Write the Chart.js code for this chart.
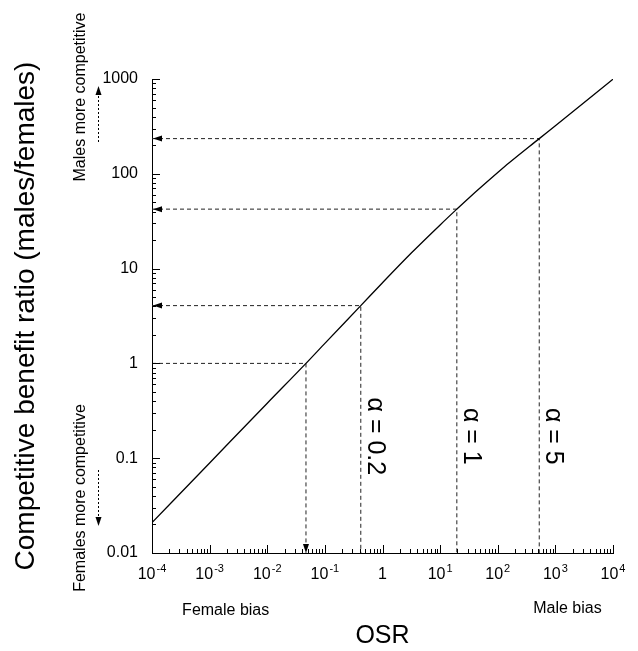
<!DOCTYPE html>
<html>
<head>
<meta charset="utf-8">
<script src="https://cdn.jsdelivr.net/npm/chart.js@4"></script>
<style>
  body { margin: 0; background: #fff; }
  canvas { display: block; }
</style>
</head>
<body>
<canvas id="chart" width="638" height="651"></canvas>
<script>
// curve (OSR -> competitive benefit ratio)
const osrValues = [1e-4, 1e-3, 1e-2, 0.047, 0.1, 0.42, 1, 3.16, 10, 19.5, 31.6, 100, 158, 525, 1000, 1e4];
const ratioValues = [0.0209, 0.0891, 0.380, 1, 1.626, 4.07, 7.10, 14.6, 28.9, 42.4, 55.6, 103, 130.6, 235, 322, 995];

// dashed guides: where each alpha meets the curve
const guideOsr = [0.047, 0.42, 19.5, 525];
const guideRatio = [1, 4.07, 42.4, 235];
const guideArrowLeft = [false, true, true, true];
const guideArrowDown = [true, false, false, false];
const alphaLabels = ['', 'α = 0.2', 'α = 1', 'α = 5'];

const xDecades = [-4, -3, -2, -1, 0, 1, 2, 3, 4];
const xTickBase = ['10', '10', '10', '10', '1', '10', '10', '10', '10'];
const xTickExp = ['-4', '-3', '-2', '-1', '', '1', '2', '3', '4'];
const yDecades = [-2, -1, 0, 1, 2, 3];
const yTickLabels = ['0.01', '0.1', '1', '10', '100', '1000'];

const FONT = "'Liberation Sans', Arial, Helvetica, sans-serif";

function logTicks(decades) {
    const out = [];
    decades.forEach((d, i) => {
        const base = Math.pow(10, d);
        out.push({ value: base });
        if (i < decades.length - 1) {
            for (let k = 2; k <= 9; k++) out.push({ value: k * base });
        }
    });
    return out;
}

function decadeIndex(value, decades) {
    const l = Math.log10(value);
    const e = Math.round(l);
    if (Math.abs(l - e) > 1e-6) return -1;
    return decades.indexOf(e);
}

function arrowHead(ctx, x, y, dir) {
    const len = 9, half = 3;
    ctx.beginPath();
    ctx.moveTo(x, y);
    if (dir === 'left') { ctx.lineTo(x + len, y - half); ctx.lineTo(x + len, y + half); }
    if (dir === 'down') { ctx.lineTo(x - half, y - len); ctx.lineTo(x + half, y - len); }
    if (dir === 'up') { ctx.lineTo(x - half, y + len); ctx.lineTo(x + half, y + len); }
    ctx.closePath();
    ctx.fill();
}

const annotate = {
    id: 'annotate',
    afterDraw(chart) {
        const { ctx, chartArea: a, scales: { x, y } } = chart;
        ctx.save();
        ctx.strokeStyle = '#000';
        ctx.fillStyle = '#000';
        ctx.lineWidth = 1;

        // tick marks point inward
        ctx.beginPath();
        x.ticks.forEach(t => {
            const px = Math.round(x.getPixelForValue(t.value)) + 0.5;
            const len = decadeIndex(t.value, xDecades) >= 0 ? 8 : 4;
            ctx.moveTo(px, a.bottom);
            ctx.lineTo(px, a.bottom - len);
        });
        y.ticks.forEach(t => {
            const py = Math.round(y.getPixelForValue(t.value)) + 0.5;
            const len = decadeIndex(t.value, yDecades) >= 0 ? 8 : 4;
            ctx.moveTo(a.left, py);
            ctx.lineTo(a.left + len, py);
        });
        ctx.stroke();

        // x tick labels with superscript exponents
        ctx.textBaseline = 'alphabetic';
        ctx.textAlign = 'left';
        xDecades.forEach((d, i) => {
            const px = x.getPixelForValue(Math.pow(10, d));
            ctx.font = '16px ' + FONT;
            const wb = ctx.measureText(xTickBase[i]).width;
            ctx.font = '11px ' + FONT;
            const we = xTickExp[i] ? ctx.measureText(xTickExp[i]).width + 1 : 0;
            const x0 = px - (wb + we) / 2;
            ctx.font = '16px ' + FONT;
            ctx.fillText(xTickBase[i], x0, a.bottom + 26);
            if (xTickExp[i]) {
                ctx.font = '11px ' + FONT;
                ctx.fillText(xTickExp[i], x0 + wb + 1, a.bottom + 19);
            }
        });

        // arrowheads on the guides
        guideOsr.forEach((o, i) => {
            if (guideArrowLeft[i]) arrowHead(ctx, a.left + 1, y.getPixelForValue(guideRatio[i]), 'left');
            if (guideArrowDown[i]) arrowHead(ctx, x.getPixelForValue(o), a.bottom, 'down');
        });

        // alpha labels, rotated
        ctx.font = '25px ' + FONT;
        ctx.textAlign = 'center';
        ctx.textBaseline = 'middle';
        guideOsr.forEach((o, i) => {
            if (!alphaLabels[i]) return;
            ctx.save();
            ctx.translate(x.getPixelForValue(o) + 14, y.getPixelForValue(0.17));
            ctx.rotate(Math.PI / 2);
            ctx.fillText(alphaLabels[i], 0, 0);
            ctx.restore();
        });

        // side notes with dashed arrows
        ctx.font = '16px ' + FONT;
        const noteX = a.left - 71;
        [['Males more competitive', a.top + 18], ['Females more competitive', a.bottom - 55]].forEach(([txt, cy]) => {
            ctx.save();
            ctx.translate(noteX, cy);
            ctx.rotate(-Math.PI / 2);
            ctx.fillText(txt, 0, 0);
            ctx.restore();
        });
        ctx.setLineDash([2, 2]);
        ctx.beginPath();
        ctx.moveTo(a.left - 53.5, a.top + 63);
        ctx.lineTo(a.left - 53.5, a.top + 14);
        ctx.moveTo(a.left - 53.5, a.bottom - 83);
        ctx.lineTo(a.left - 53.5, a.bottom - 34);
        ctx.stroke();
        ctx.setLineDash([]);
        arrowHead(ctx, a.left - 53.5, a.top + 7, 'up');
        arrowHead(ctx, a.left - 53.5, a.bottom - 27, 'down');

        // bias labels under the x axis
        ctx.font = '16px ' + FONT;
        ctx.fillText('Female bias', x.getPixelForValue(0.0019), 611);
        ctx.fillText('Male bias', x.getPixelForValue(1620), 609);
        ctx.restore();
    }
};

const datasets = [{
    data: osrValues.map((v, i) => ({ x: v, y: ratioValues[i] })),
    borderColor: '#000',
    borderWidth: 1.3,
    pointRadius: 0,
    cubicInterpolationMode: 'monotone',
    showLine: true
}];
guideOsr.forEach((o, i) => {
    datasets.push({
        data: [{ x: 1e-4, y: guideRatio[i] }, { x: o, y: guideRatio[i] }, { x: o, y: 0.01 }],
        borderColor: '#222',
        borderWidth: 1,
        borderDash: [4, 3],
        pointRadius: 0,
        showLine: true
    });
});

new Chart(document.getElementById('chart'), {
    type: 'scatter',
    data: { datasets: datasets },
    plugins: [annotate],
    options: {
        responsive: false,
        animation: false,
        layout: { padding: { top: 79, right: 25, left: 0, bottom: 0 } },
        plugins: { legend: { display: false }, tooltip: { enabled: false } },
        scales: {
            x: {
                type: 'logarithmic',
                min: 1e-4,
                max: 1e4,
                afterFit: s => { s.height = 98; },
                afterBuildTicks: s => { s.ticks = logTicks(xDecades); },
                grid: { display: true, drawOnChartArea: false, drawTicks: false },
                border: { display: true, color: '#000', width: 1 },
                ticks: { autoSkip: false, maxRotation: 0, callback: () => '' },
                title: { display: true, text: 'OSR', color: '#000', font: { family: FONT, size: 25 }, padding: { top: 0, bottom: 0 } }
            },
            y: {
                type: 'logarithmic',
                min: 0.01,
                max: 1000,
                afterFit: s => { s.width = 152; },
                afterBuildTicks: s => { s.ticks = logTicks(yDecades); },
                grid: { display: true, drawOnChartArea: false, drawTicks: false },
                border: { display: true, color: '#000', width: 1 },
                ticks: {
                    autoSkip: false, padding: 14, color: '#000',
                    font: { family: FONT, size: 16 },
                    callback: v => { const i = decadeIndex(v, yDecades); return i >= 0 ? yTickLabels[i] : ''; }
                },
                title: { display: true, text: 'Competitive benefit ratio (males/females)', color: '#000', font: { family: FONT, size: 28 }, padding: { top: 9, bottom: 0 } }
            }
        }
    }
});
</script>
</body>
</html>
